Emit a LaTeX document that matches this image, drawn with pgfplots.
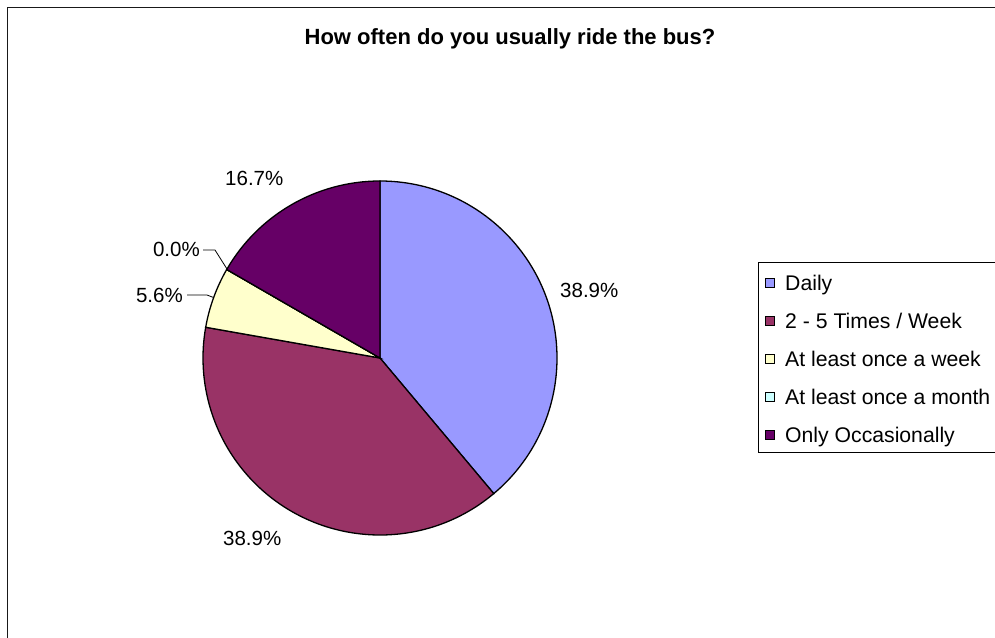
\documentclass[border=0pt]{standalone}
\usepackage{pgfplots}
\pgfplotsset{compat=1.18}
\usepackage{pgfplotstable}
\usepackage{fontspec}
\setmainfont{Liberation Sans}
\definecolor{cDaily}{HTML}{9999FF}
\definecolor{cTwo}{HTML}{993366}
\definecolor{cWeek}{HTML}{FFFFCC}
\definecolor{cMonth}{HTML}{CCFFFF}
\definecolor{cOcc}{HTML}{660066}
% responses per category (18 answers)
\pgfplotstableread{
value
7
7
1
0
3
}\datatable
\pgfplotstablegetelem{0}{value}\of\datatable\edef\vA{\pgfplotsretval}%
\pgfplotstablegetelem{1}{value}\of\datatable\edef\vB{\pgfplotsretval}%
\pgfplotstablegetelem{2}{value}\of\datatable\edef\vC{\pgfplotsretval}%
\pgfplotstablegetelem{3}{value}\of\datatable\edef\vD{\pgfplotsretval}%
\pgfplotstablegetelem{4}{value}\of\datatable\edef\vE{\pgfplotsretval}%
\pgfmathsetmacro\tot{\vA+\vB+\vC+\vD+\vE}%
\pgfmathsetmacro\aA{90}%
\pgfmathsetmacro\aB{\aA-360*\vA/\tot}%
\pgfmathsetmacro\aC{\aB-360*\vB/\tot}%
\pgfmathsetmacro\aD{\aC-360*\vC/\tot}%
\pgfmathsetmacro\aE{\aD-360*\vD/\tot}%
\pgfmathsetmacro\aF{\aE-360*\vE/\tot}%
\newcommand\lblfont{\fontsize{20.5}{24}\selectfont}
\newcommand\legfont{\fontsize{21.2}{25}\selectfont}
\begin{document}
\begin{tikzpicture}
\begin{axis}[at={(0,0)},anchor=south west,
  width=995pt,height=637pt,scale only axis,
  xmin=0,xmax=995,ymin=0,ymax=637,
  hide axis,clip=false]
% outer frame (cut at right and bottom)
\draw[line width=1.6pt,black!90] (axis cs:7.5,-20) -- (axis cs:7.5,629.5) -- (axis cs:1020,629.5);
% title
\node[anchor=base,font=\fontsize{22}{26}\selectfont\bfseries] at (axis cs:510,592) {How often do you usually ride the bus?};
% pie slices
\filldraw[fill=cDaily,draw=black,line width=1.3pt] (axis cs:380,279) -- ++(\aA:177pt) arc[start angle=\aA,end angle=\aB,radius=177pt] -- cycle;
\filldraw[fill=cTwo,draw=black,line width=1.3pt] (axis cs:380,279) -- ++(\aB:177pt) arc[start angle=\aB,end angle=\aC,radius=177pt] -- cycle;
\filldraw[fill=cWeek,draw=black,line width=1.3pt] (axis cs:380,279) -- ++(\aC:177pt) arc[start angle=\aC,end angle=\aD,radius=177pt] -- cycle;
\draw[black,line width=1.3pt] (axis cs:380,279) -- ++(\aD:177pt);
\filldraw[fill=cOcc,draw=black,line width=1.3pt] (axis cs:380,279) -- ++(\aE:177pt) arc[start angle=\aE,end angle=\aF,radius=177pt] -- cycle;
% percentage labels
\node[anchor=base west,inner sep=0pt,font=\lblfont] at (axis cs:560,339) {38.9\%};
\node[anchor=base west,inner sep=0pt,font=\lblfont] at (axis cs:223,92) {38.9\%};
\node[anchor=base west,inner sep=0pt,font=\lblfont] at (axis cs:225,451) {16.7\%};
\node[anchor=base east,inner sep=0pt,font=\lblfont] at (axis cs:200,380) {0.0\%};
\node[anchor=base east,inner sep=0pt,font=\lblfont] at (axis cs:183,334) {5.6\%};
% leader lines
\draw[black,line width=0.8pt] (axis cs:203,387) -- (axis cs:215,387) -- (axis cs:227,368);
\draw[black,line width=0.8pt] (axis cs:187,342) -- (axis cs:207,342) -- (axis cs:213.5,339.5);
% legend
\draw[black,line width=1pt] (axis cs:1020,374) -- (axis cs:758,374) -- (axis cs:758,184) -- (axis cs:1020,184);
\foreach \c/\y/\t in {cDaily/283/Daily, cTwo/321/{2 - 5 Times / Week}, cWeek/359/{At least once a week}, cMonth/397/{At least once a month}, cOcc/435/{Only Occasionally}}{
  \edef\temp{\noexpand\filldraw[fill=\c,draw=black,line width=0.8pt] (axis cs:765,{637-\y-4.5}) rectangle (axis cs:774,{637-\y+4.5});
    \noexpand\node[anchor=base west,inner sep=0pt,font=\noexpand\legfont] at (axis cs:785,{637-\y-7.5}) {\t};}
  \temp
}
\end{axis}
\pgfresetboundingbox
\path (0,0) rectangle (995pt,637pt);
\end{tikzpicture}
\end{document}
